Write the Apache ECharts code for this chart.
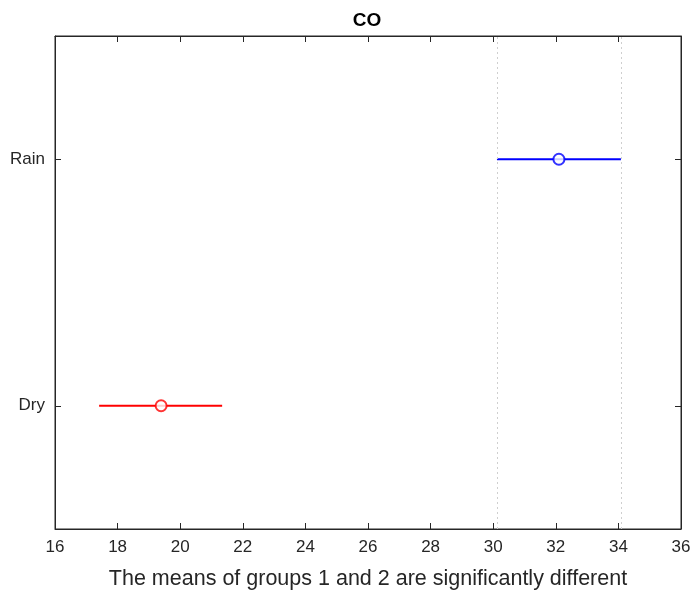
<!DOCTYPE html>
<html>
<head>
<meta charset="utf-8">
<script src="https://cdn.jsdelivr.net/npm/echarts@6/dist/echarts.min.js"></script>
<style>html,body{margin:0;padding:0;background:#fff}#c{width:691px;height:592px}</style>
</head>
<body>
<div id="c"></div>
<script>
const groups = ['Dry', 'Rain'];
const groupPos = [1, 2];
const means = [19.39, 32.1];
const lower = [17.41, 30.12];
const upper = [21.34, 34.08];
const colors = ['#ff0000', '#0000ff'];
const xTicks = [16, 18, 20, 22, 24, 26, 28, 30, 32, 34, 36];
const refIdx = 1; // selected group (Rain) whose interval bounds are drawn as dotted lines

const textColor = '#262626';
const font = 'Liberation Sans, Arial, Helvetica, sans-serif';

const series = [];
groups.forEach((g, i) => {
  series.push({
    type: 'line', name: g + ' interval',
    data: [[lower[i], groupPos[i]], [upper[i], groupPos[i]]],
    lineStyle: { color: colors[i], width: 2 },
    symbol: 'none', silent: true, z: 3
  });
  series.push({
    type: 'scatter', name: g + ' mean',
    data: [[means[i], groupPos[i]]],
    symbol: 'emptyCircle', symbolSize: 11,
    itemStyle: { color: colors[i], borderColor: colors[i], borderWidth: 1.2 },
    z: 4
  });
});
series.push({
  type: 'line', data: [], silent: true,
  markLine: {
    symbol: 'none', silent: true, label: { show: false },
    lineStyle: { color: '#cfcfcf', type: [2, 3], width: 1 },
    data: [{ xAxis: lower[refIdx] }, { xAxis: upper[refIdx] }]
  }
});

const chart = echarts.init(document.getElementById('c'));
chart.setOption({
  animation: false,
  backgroundColor: '#fff',
  title: {
    text: 'CO', left: 362, top: 6, textAlign: 'center',
    textStyle: { fontFamily: font, fontSize: 19, fontWeight: 'bold', color: '#000' }
  },
  grid: {
    left: 55, right: 10, top: 36, bottom: 63, show: true,
    borderColor: textColor, borderWidth: 1,
    containLabel: false, outerBoundsMode: 'none'
  },
  xAxis: [{
    type: 'value', min: xTicks[0], max: xTicks[xTicks.length - 1], interval: 2,
    name: 'The means of groups 1 and 2 are significantly different',
    nameLocation: 'middle', nameGap: 39,
    nameTextStyle: { fontFamily: font, fontSize: 21.5, color: textColor },
    axisLine: { show: true, lineStyle: { color: textColor } },
    axisTick: { show: true, inside: true, length: 6, lineStyle: { color: textColor } },
    axisLabel: { fontFamily: font, fontSize: 17, color: textColor, margin: 10 },
    splitLine: { show: false }
  }, {
    type: 'value', position: 'top', min: xTicks[0], max: xTicks[xTicks.length - 1], interval: 2,
    axisLine: { show: true, lineStyle: { color: textColor } },
    axisTick: { show: true, inside: true, length: 6, lineStyle: { color: textColor } },
    axisLabel: { show: false }, splitLine: { show: false }
  }],
  yAxis: [{
    type: 'value', min: 0.5, max: 2.5, interval: 0.5,
    axisLine: { show: true, lineStyle: { color: textColor } },
    axisTick: { show: true, inside: true, length: 6, customValues: groupPos, lineStyle: { color: textColor } },
    axisLabel: {
      fontFamily: font, fontSize: 17, color: textColor, margin: 10,
      customValues: groupPos,
      formatter: v => groups[groupPos.indexOf(v)] || ''
    },
    splitLine: { show: false }
  }, {
    type: 'value', position: 'right', min: 0.5, max: 2.5, interval: 0.5,
    axisLine: { show: true, lineStyle: { color: textColor } },
    axisTick: { show: true, inside: true, length: 6, customValues: groupPos, lineStyle: { color: textColor } },
    axisLabel: { show: false }, splitLine: { show: false }
  }],
  series: series
});
</script>
</body>
</html>
